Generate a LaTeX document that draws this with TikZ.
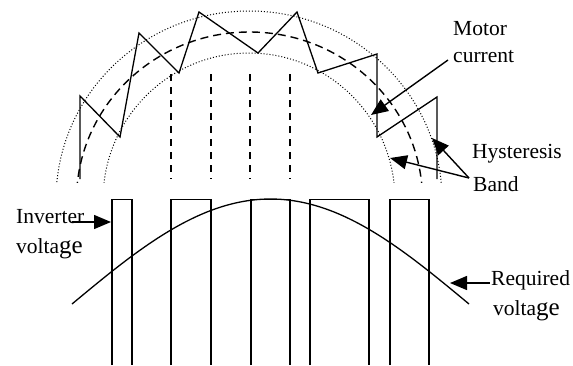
\documentclass[tikz,border=0pt]{standalone}
\usepackage{fontspec}
\setmainfont{Liberation Serif}
\usetikzlibrary{arrows.meta}
\newcommand{\lblfont}{\fontsize{21.5}{26}\selectfont}
\newcommand{\bigge}{{\fontsize{25}{26}\selectfont ge}}
\begin{document}
\begin{tikzpicture}[x=1pt,y=-1pt,
  lbl/.style={font=\lblfont, anchor=base west, inner sep=0pt},
  arr/.style={-{Triangle[length=17pt,width=14pt]}, line width=1.4pt},
  wave/.style={line width=1.3pt, line join=miter},
  band/.style={line width=1pt, dash pattern=on 1pt off 2pt},
  mid/.style={line width=1.4pt, dash pattern=on 8pt off 5pt},
  vdash/.style={line width=1.3pt, dash pattern=on 7pt off 6pt},
  pulse/.style={line width=1.1pt}]
\useasboundingbox (0,0) rectangle (573,365);

% hysteresis band and reference current
\begin{scope}
  \clip (0,0) rectangle (573,182);
  \draw[band] (249,200) ellipse [x radius=193, y radius=189];
  \draw[band] (249,200) ellipse [x radius=146, y radius=147];
  \draw[mid] (249.5,200) ellipse [x radius=173, y radius=168];
\end{scope}

% vertical dashed lines
\foreach \xx in {171,211,250,290}
  \draw[vdash] (\xx,74) -- (\xx,179);

% motor current zigzag
\draw[wave] (80,179) -- (80,96) -- (120,137) -- (139,33) -- (179,73) -- (199,12)
  -- (258,53) -- (297,12) -- (318,73) -- (377,54) -- (377,137) -- (437,97) -- (437,179);

% inverter voltage pulses
\draw[pulse] (112,365) -- (112,199.5) -- (132,199.5) -- (132,365);
\draw[pulse] (171,365) -- (171,199.5) -- (211,199.5) -- (211,365);
\draw[pulse] (251,365) -- (251,199.5) -- (290,199.5) -- (290,365);
\draw[pulse] (310,365) -- (310,199.5) -- (369,199.5) -- (369,365);
\draw[pulse] (390,365) -- (390,199.5) -- (429,199.5) -- (429,365);

% required voltage
\draw[line width=1.3pt] plot[domain=72:469, samples=120] (\x, {304-105*cos((\x-270.5)/198.5*90)});

% labels
\node[lbl] (motor) at (453,35) {Motor};
\node[lbl] (current) at (453,62) {current};
\node[lbl] (hyst) at (472,158) {Hysteresis};
\node[lbl] (band) at (473,191) {Band};
\node[lbl] (inv) at (16,223) {Inverter};
\node[lbl] (invv) at (16,253) {volta\bigge};
\node[lbl] (req) at (491,285) {Required};
\node[lbl] (reqv) at (493,315) {volta\bigge};

% arrow anchors
\coordinate (mstart) at (448,60);
\coordinate (mtip) at (371,115);
\coordinate (hstart) at (469,178);
\coordinate (htip1) at (432,138);
\coordinate (htip2) at (390,158);
\coordinate (istart) at (72,222);
\coordinate (itip) at (111,222);
\coordinate (rstart) at (490,283);
\coordinate (rtip) at (450,283);

\draw[arr] (mstart) -- (mtip);
\draw[arr] (hstart) -- (htip1);
\draw[arr] (hstart) -- (htip2);
\draw[arr] (istart) -- (itip);
\draw[arr] (rstart) -- (rtip);
\end{tikzpicture}
\end{document}
